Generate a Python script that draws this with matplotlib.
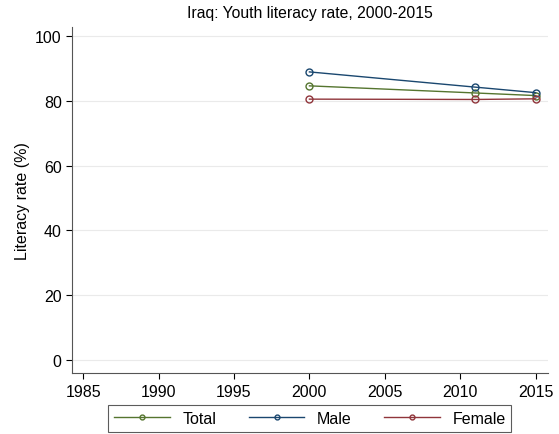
import matplotlib
matplotlib.use("Agg")
import matplotlib.pyplot as plt

plt.rcParams['font.family'] = ['Liberation Sans', 'DejaVu Sans']

years = [2000, 2011, 2015]
total = [84.6, 82.4, 81.6]
male = [88.9, 84.2, 82.5]
female = [80.5, 80.4, 80.6]

fig = plt.figure(figsize=(5.59, 4.35), dpi=100)
ax = fig.add_axes([0.129, 0.140, 0.851, 0.796])

series = [("Total", total, "#55752f"), ("Male", male, "#1a476f"), ("Female", female, "#90353b")]
for name, vals, col in series:
    ax.plot(years, vals, color=col, linewidth=1.0, marker='o', markersize=5,
            markerfacecolor='none', markeredgecolor=col, markeredgewidth=1.0, label=name)

ax.set_xlim(1984.27, 2015.8)
ax.set_ylim(-4.0, 102.8)
ax.set_xticks([1985, 1990, 1995, 2000, 2005, 2010, 2015])
ax.set_yticks([0, 20, 40, 60, 80, 100])
ax.yaxis.grid(True, color='#eaeaea', linewidth=0.8)
ax.set_axisbelow(True)
for s in ['top', 'right']:
    ax.spines[s].set_visible(False)
ax.spines['left'].set_color('#555555')
ax.spines['bottom'].set_color('#555555')
ax.tick_params(labelsize=11.5, length=4, color='black')
ax.set_ylabel("Literacy rate (%)", fontsize=11.5)
ax.set_title("Iraq: Youth literacy rate, 2000-2015", fontsize=11.3, pad=7)

leg = ax.legend(loc='upper center', bbox_to_anchor=(0.5, -0.07), ncol=3, frameon=True,
                fancybox=False, edgecolor='#333333', fontsize=11.5, handlelength=3.5,
                columnspacing=2.0, borderpad=0.35, markerscale=0.7, handletextpad=0.8)
leg.get_frame().set_linewidth(0.8)

fig.savefig("out.png", dpi=100)
